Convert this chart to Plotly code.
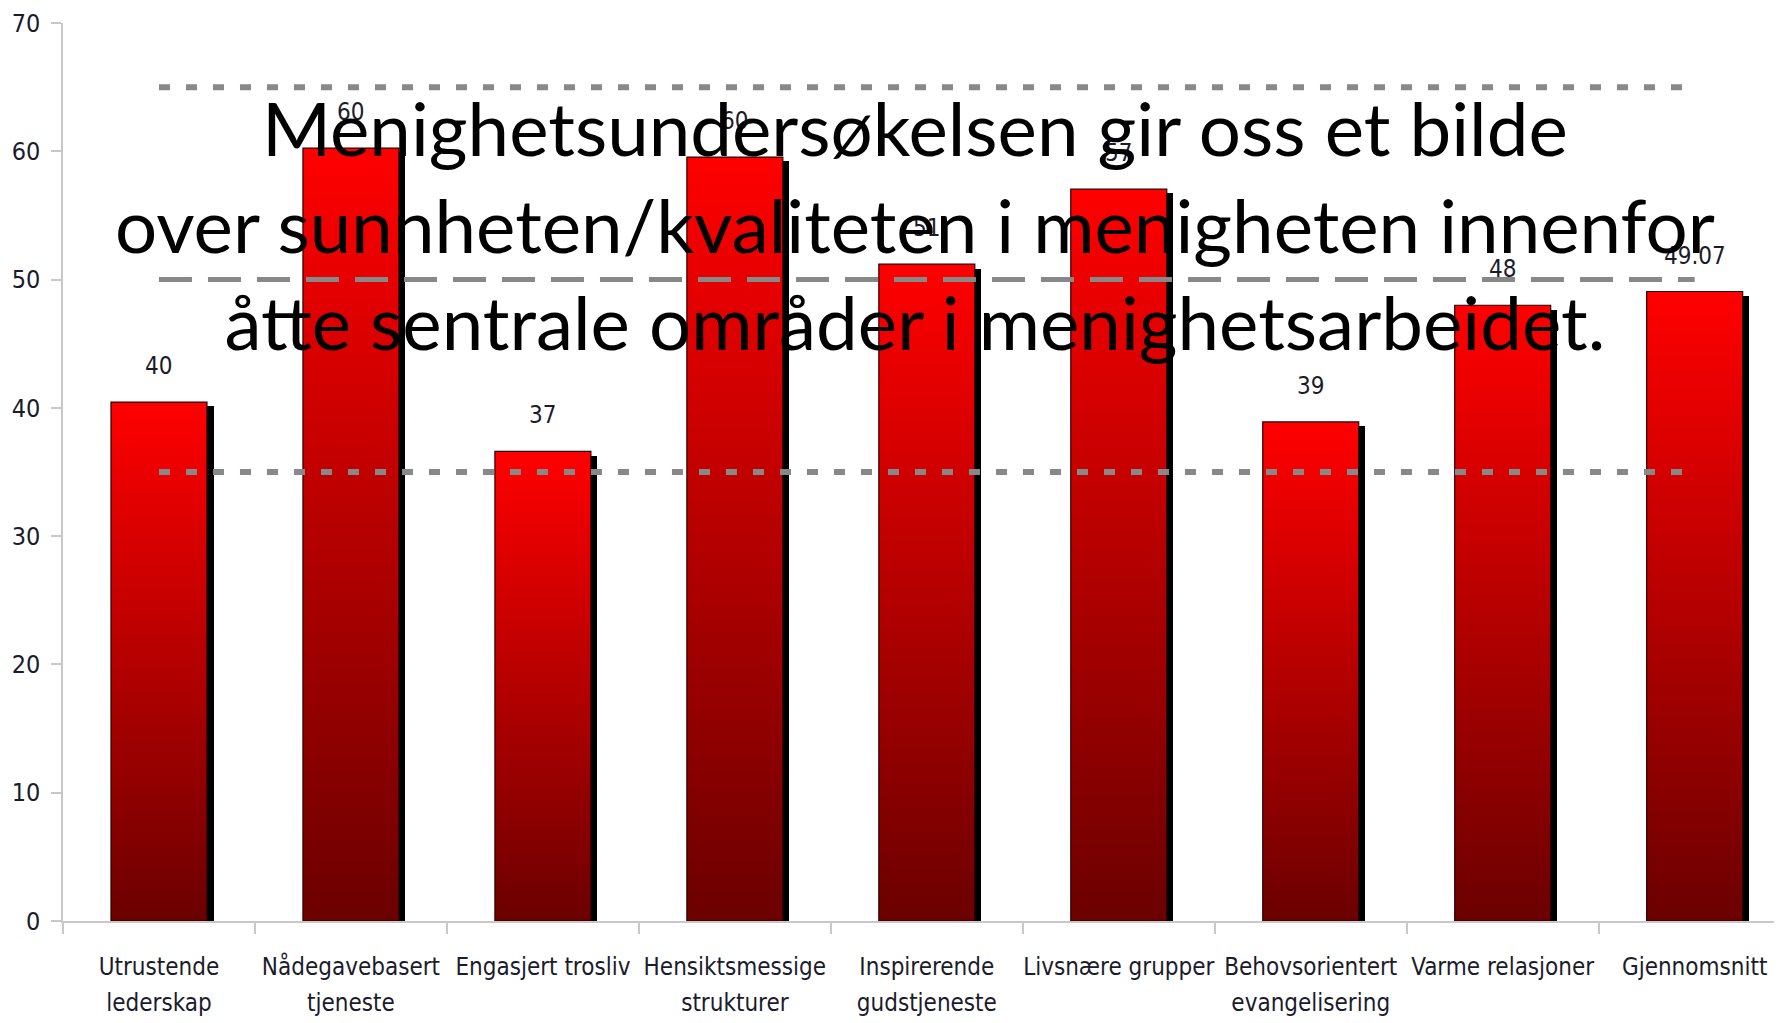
import plotly.graph_objects as go

# ---- data ----
cat_line1 = [
    "Utrustende", "Nådegavebasert", "Engasjert trosliv", "Hensiktsmessige",
    "Inspirerende", "Livsnære grupper", "Behovsorientert", "Varme relasjoner",
    "Gjennomsnitt",
]
cat_line2 = [
    "lederskap", "tjeneste", "", "strukturer",
    "gudstjeneste", "", "evangelisering", "", "",
]
values = [40.45, 60.25, 36.6, 59.55, 51.2, 57.05, 38.9, 48.0, 49.07]
value_labels = ["40", "60", "37", "60", "51", "57", "39", "48", "49.07"]
upper_ref = [65] * 9
mid_ref = [50] * 9
lower_ref = [35] * 9
y_ticks = [0, 10, 20, 30, 40, 50, 60, 70]

title_text = ("Menighetsundersøkelsen gir oss et bilde<br>"
              "over sunnheten/kvaliteten i menigheten innenfor<br>"
              "åtte sentrale områder i menighetsarbeidet.")

# ---- style ----
SMALL_FONT = "DejaVu Sans Condensed, Liberation Sans Narrow, sans-serif"
TXT = "#1b1b2c"
AXC = "#c8c8c8"
HALF_W = 0.25
SHADOW_DX = 0.034
SHADOW_DY = 0.34
X_RANGE = [-0.5, 8.455]

idx = list(range(len(cat_line1)))

fig = go.Figure()

# shadow bars
fig.add_trace(go.Bar(
    x=idx, y=[v - SHADOW_DY for v in values],
    width=2 * HALF_W, offset=-HALF_W + SHADOW_DX,
    marker=dict(color="#000000", line=dict(width=0)),
    showlegend=False, hoverinfo="skip",
))

# gradient bars
for i, v in zip(idx, values):
    fig.add_trace(go.Scatter(
        x=[i - HALF_W, i - HALF_W, i + HALF_W, i + HALF_W, i - HALF_W],
        y=[0, v, v, 0, 0],
        mode="lines", fill="toself",
        line=dict(color="#2a0000", width=1.2),
        fillgradient=dict(type="vertical",
                          colorscale=[[0, "#6b0000"], [1, "#ff0000"]]),
        showlegend=False, hoverinfo="skip",
    ))

# reference lines (on overlaid x-axis, drawn above bars)
fig.add_trace(go.Scatter(x=idx, y=upper_ref, mode="lines", xaxis="x2",
                         line=dict(color="#888888", width=6, dash="11px,16px"),
                         showlegend=False, hoverinfo="skip"))
fig.add_trace(go.Scatter(x=idx, y=mid_ref, mode="lines", xaxis="x2",
                         line=dict(color="#888888", width=5, dash="33px,16px"),
                         showlegend=False, hoverinfo="skip"))
fig.add_trace(go.Scatter(x=idx, y=lower_ref, mode="lines", xaxis="x2",
                         line=dict(color="#888888", width=6, dash="11px,16px"),
                         showlegend=False, hoverinfo="skip"))

annotations = []
for i, v, lab in zip(idx, values, value_labels):
    annotations.append(dict(
        x=i, y=v, xref="x", yref="y", text=lab, showarrow=False,
        yanchor="bottom", xanchor="center", yshift=20,
        font=dict(family=SMALL_FONT, size=24, color=TXT),
    ))
annotations.append(dict(
    x=0.4955, y=0.776, xref="paper", yref="paper", text=title_text,
    showarrow=False, xanchor="center", yanchor="middle", align="center",
    font=dict(family="Lato, Calibri, sans-serif", size=74.5, color="#000000"),
))

tick_font = dict(family=SMALL_FONT, size=24, color=TXT)

fig.update_layout(
    width=1774, height=1015,
    margin=dict(l=55, r=0, t=15, b=102, pad=0),
    plot_bgcolor="white", paper_bgcolor="white",
    bargap=0, barmode="overlay",
    annotations=annotations,
    xaxis=dict(
        range=X_RANGE, tickmode="array", tickvals=idx, ticktext=cat_line1,
        ticks="", showline=True, linecolor=AXC, linewidth=1.5,
        showgrid=False, zeroline=False, ticklabelstandoff=23,
        tickangle=0, automargin=False, tickfont=tick_font,
        minor=dict(tickmode="array", tickvals=[k - 0.5 for k in range(len(idx) + 1)],
                   ticks="outside", ticklen=11, tickcolor=AXC, tickwidth=1.5,
                   showgrid=False),
    ),
    xaxis2=dict(
        overlaying="x", anchor="y", side="bottom", matches="x",
        range=X_RANGE, tickmode="array", tickvals=idx, ticktext=cat_line2,
        ticks="", showline=False, showgrid=False, zeroline=False,
        ticklabelstandoff=65, tickangle=0, automargin=False, tickfont=tick_font,
    ),
    yaxis=dict(
        range=[0, 70], tickmode="array", tickvals=y_ticks,
        ticks="outside", ticklen=10, tickcolor=AXC, tickwidth=1.5,
        showline=True, linecolor=AXC, linewidth=1.5,
        showgrid=False, zeroline=False, ticklabelstandoff=6, automargin=False,
        tickfont=dict(family=SMALL_FONT, size=25, color=TXT),
    ),
)

fig.write_html("out.html")
